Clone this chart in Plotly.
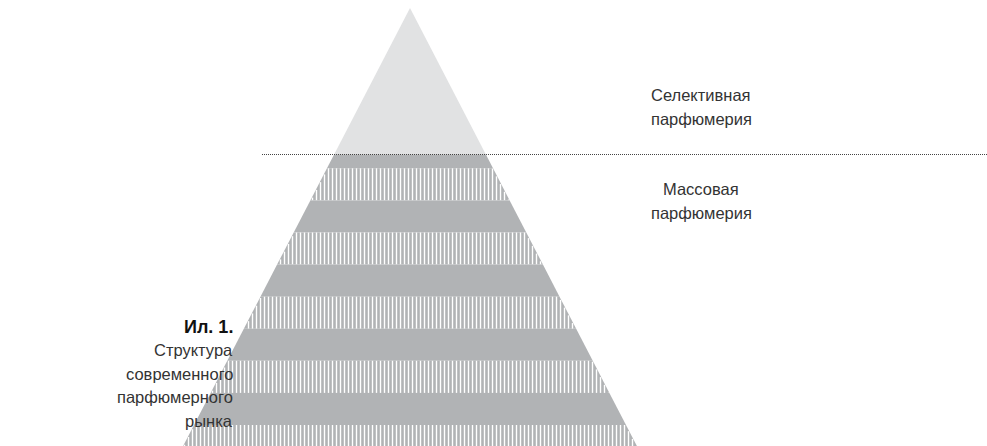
import plotly.graph_objects as go

# ---- data (pixel-space geometry of the diagram) ----
W, H = 987, 446
apex_x = 410.0
apex_y = 8.0
half_slope = 0.518           # half-width per unit of height
divider_y = 154.5
divider_x0 = 262
band_edges = [154.5, 168.3, 200.4, 232.5, 264.6, 296.7, 328.8, 360.8, 392.9, 425.0, 457.1]
band_kinds = ["solid", "stripe", "solid", "stripe", "solid", "stripe", "solid", "stripe", "solid", "stripe"]
stripe_period = 4            # hatching texture (style)
stripe_offset = 0.5
stripe_width = 1.4

top_label = ["Селективная", "парфюмерия"]
bottom_label = ["Массовая", "парфюмерия"]
caption_title = "Ил. 1."
caption_lines = ["Структура", "современного", "парфюмерного", "рынка"]

LIGHT = "#e1e2e3"
DARK = "#b1b3b5"
TEXT = "#333333"


def hw(y):
    return half_slope * (y - apex_y)


fig = go.Figure()

# top (selective) triangle
fig.add_trace(go.Scatter(
    x=[apex_x, apex_x + hw(divider_y), apex_x - hw(divider_y), apex_x],
    y=[apex_y, divider_y, divider_y, apex_y],
    mode="lines", fill="toself", fillcolor=LIGHT,
    line=dict(width=0, color=LIGHT), hoverinfo="skip", showlegend=False))

# mass-market bands
for (y0, y1), kind in zip(zip(band_edges[:-1], band_edges[1:]), band_kinds):
    xs = [apex_x - hw(y0), apex_x + hw(y0), apex_x + hw(y1), apex_x - hw(y1), apex_x - hw(y0)]
    ys = [y0, y0, y1, y1, y0]
    fig.add_trace(go.Scatter(x=xs, y=ys, mode="lines", fill="toself", fillcolor=DARK,
                             line=dict(width=0, color=DARK), hoverinfo="skip",
                             showlegend=False))
    if kind == "stripe":
        sx, sy = [], []
        left = apex_x - hw(y1)
        right = apex_x + hw(y1)
        k0 = int(left // stripe_period) - 1
        k1 = int(right // stripe_period) + 1
        for k in range(k0, k1 + 1):
            x = k * stripe_period + stripe_offset
            d = abs(x - apex_x) + stripe_width / 2
            ystart = apex_y + d / half_slope
            top = max(y0, ystart)
            if top < y1:
                sx += [x, x, None]
                sy += [top, y1, None]
        fig.add_trace(go.Scatter(x=sx, y=sy, mode="lines",
                                 line=dict(color="white", width=stripe_width),
                                 hoverinfo="skip", showlegend=False))

# dotted divider (runs to the right edge of the page)
fig.add_shape(type="line", x0=divider_x0, x1=W, y0=divider_y, y1=divider_y,
              xref="x", yref="y", line=dict(color="#444444", width=1, dash="1px,1px"))

font_txt = dict(family="Liberation Sans, Arial, sans-serif", size=16.5, color=TEXT)

for i, t in enumerate(top_label):
    fig.add_annotation(x=701, y=95 + i * 23.5, text=t, showarrow=False,
                       xref="x", yref="y", xanchor="center", yanchor="middle", font=font_txt)
for i, t in enumerate(bottom_label):
    fig.add_annotation(x=701, y=189 + i * 23.5, text=t, showarrow=False,
                       xref="x", yref="y", xanchor="center", yanchor="middle", font=font_txt)

fig.add_annotation(x=235, y=327, text="<b>" + caption_title + "</b>", showarrow=False,
                   xref="x", yref="y", xanchor="right", yanchor="middle",
                   font=dict(family="Liberation Sans, Arial, sans-serif", size=18,
                             color="#111111"))
for i, t in enumerate(caption_lines):
    fig.add_annotation(x=235, y=350 + i * 23.7, text=t, showarrow=False,
                       xref="x", yref="y", xanchor="right", yanchor="middle", font=font_txt)

fig.update_layout(
    width=W, height=H,
    margin=dict(l=0, r=0, t=0, b=0),
    paper_bgcolor="white", plot_bgcolor="white",
    xaxis=dict(range=[0, W], visible=False, fixedrange=True),
    yaxis=dict(range=[H, 0], visible=False, fixedrange=True),
    showlegend=False,
)

fig.write_html(
    "out.html",
    config=dict(displayModeBar=False),
    post_script="document.body.style.margin='0';document.body.style.overflow='hidden';",
)
